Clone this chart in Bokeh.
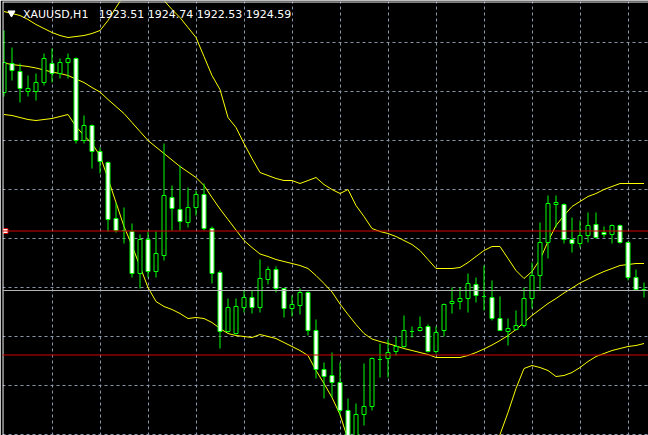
import numpy as np
from bokeh.plotting import figure
from bokeh.models import ColumnDataSource, Range1d, Grid, FixedTicker, Span, Label
from bokeh.embed import file_html
from bokeh.resources import INLINE

symbol = "XAUUSD,H1"
last_ohlc = ["1923.51", "1924.74", "1922.53", "1924.59"]

opens = [1944.39, 1947.29, 1946.49, 1944.49, 1944.49, 1945.39, 1947.29, 1946.29, 1947.39, 1947.79,
         1939.59, 1941.09, 1938.49, 1937.39, 1931.79, 1930.59, 1930.49, 1926.29, 1929.69, 1926.49,
         1928.09, 1933.89, 1932.69, 1931.39, 1932.89, 1934.19, 1930.79, 1926.39, 1920.49, 1920.29,
         1922.89, 1923.89, 1922.89, 1925.69, 1926.69, 1924.79, 1922.79, 1923.09, 1924.39, 1920.59,
         1916.69, 1916.09, 1915.39, 1912.59, 1909.89, 1912.19, 1912.99, 1917.69, 1917.79, 1918.49,
         1918.99, 1920.49, 1920.59, 1920.99, 1918.49, 1920.59, 1923.29, 1923.49, 1923.79, 1925.19,
         1923.99, 1923.89, 1921.79, 1920.49, 1920.69, 1921.09, 1923.79, 1926.09, 1929.39, 1933.19,
         1933.19, 1929.69, 1929.29, 1930.09, 1931.19, 1930.39, 1930.19, 1931.09, 1929.39, 1925.89,
         1924.69]
highs = [1950.59, 1948.89, 1947.29, 1946.09, 1946.29, 1948.29, 1948.79, 1947.79, 1948.29, 1947.89,
         1942.09, 1941.19, 1938.89, 1937.49, 1933.39, 1932.89, 1931.29, 1930.19, 1930.49, 1930.49,
         1939.29, 1935.09, 1937.09, 1934.89, 1934.59, 1935.29, 1930.99, 1926.59, 1923.79, 1923.79,
         1924.59, 1924.59, 1927.69, 1926.99, 1926.99, 1924.79, 1924.09, 1924.79, 1924.49, 1921.69,
         1917.39, 1918.39, 1917.39, 1913.79, 1913.29, 1917.29, 1917.89, 1919.29, 1919.69, 1919.99,
         1922.09, 1920.99, 1921.99, 1921.19, 1920.99, 1923.29, 1924.89, 1924.89, 1926.29, 1925.89,
         1927.09, 1925.59, 1923.99, 1921.79, 1922.59, 1924.89, 1927.39, 1931.39, 1934.09, 1934.09,
         1933.29, 1931.89, 1931.59, 1932.39, 1932.39, 1930.99, 1931.19, 1931.19, 1929.49, 1926.69,
         1925.39]
lows = [1943.99, 1945.59, 1943.39, 1943.99, 1943.59, 1945.09, 1945.39, 1945.79, 1945.79, 1939.29,
        1939.29, 1936.79, 1936.29, 1930.49, 1930.39, 1929.29, 1925.89, 1924.79, 1925.89, 1925.89,
        1927.59, 1930.59, 1930.59, 1930.89, 1932.09, 1930.59, 1925.29, 1918.79, 1920.39, 1920.19,
        1922.39, 1922.29, 1922.39, 1925.19, 1924.39, 1921.89, 1921.99, 1922.19, 1920.09, 1915.79,
        1913.79, 1913.89, 1912.09, 1909.59, 1909.59, 1911.09, 1912.59, 1915.89, 1915.89, 1918.09,
        1918.89, 1919.89, 1920.49, 1918.39, 1918.29, 1919.99, 1922.29, 1922.69, 1922.39, 1923.39,
        1922.59, 1921.59, 1920.59, 1919.09, 1920.59, 1920.89, 1922.79, 1924.59, 1927.79, 1930.89,
        1929.29, 1928.39, 1928.89, 1929.39, 1929.79, 1929.89, 1929.29, 1929.29, 1925.59, 1924.59,
        1923.89]
closes = [1947.39, 1946.59, 1944.79, 1944.79, 1945.39, 1947.79, 1946.29, 1947.39, 1947.79, 1939.59,
          1941.09, 1938.49, 1937.49, 1931.69, 1930.59, 1930.59, 1926.29, 1929.69, 1926.49, 1928.29,
          1934.09, 1932.79, 1931.49, 1932.89, 1934.19, 1930.79, 1926.29, 1920.49, 1922.89, 1922.99,
          1923.89, 1922.89, 1925.79, 1926.69, 1924.79, 1922.79, 1923.19, 1924.39, 1920.59, 1916.69,
          1915.99, 1915.39, 1912.59, 1909.99, 1912.19, 1912.99, 1917.79, 1917.69, 1918.39, 1918.99,
          1920.59, 1920.49, 1920.89, 1918.49, 1920.39, 1923.19, 1923.49, 1923.79, 1925.29, 1924.09,
          1923.99, 1921.79, 1920.59, 1920.79, 1921.09, 1923.79, 1926.09, 1929.39, 1933.29, 1933.39,
          1929.69, 1929.29, 1930.09, 1931.09, 1929.89, 1930.19, 1931.09, 1929.39, 1925.89, 1924.69,
          1924.59]

bb_upper = [1952.49, 1952.29, 1952.09, 1951.69, 1951.19, 1950.79, 1950.39, 1950.09, 1949.89, 1949.99,
            1950.09, 1950.29, 1950.59, 1951.59, 1952.89, 1954.09, 1954.79, 1955.09, 1954.89, 1954.29,
            1953.59, 1952.69, 1951.89, 1950.89, 1949.89, 1947.99, 1946.09, 1944.69, 1941.89, 1940.89,
            1939.29, 1937.79, 1936.39, 1936.09, 1935.79, 1935.59, 1935.59, 1935.29, 1935.59, 1935.89,
            1935.19, 1934.69, 1934.29, 1934.69, 1933.09, 1931.99, 1930.79, 1930.49, 1930.29, 1929.99,
            1929.59, 1929.19, 1928.59, 1927.69, 1926.79, 1926.79, 1926.79, 1926.89, 1927.39, 1927.99,
            1928.59, 1928.99, 1928.99, 1927.79, 1926.59, 1925.79, 1926.49, 1927.69, 1929.49, 1931.09,
            1932.09, 1932.99, 1933.49, 1933.99, 1934.29, 1934.69, 1934.99, 1935.29, 1935.29, 1935.29,
            1935.29]
bb_middle = [1947.34, 1947.19, 1947.09, 1946.99, 1946.84, 1946.64, 1946.44, 1946.29, 1946.09, 1945.74,
             1945.39, 1944.89, 1944.44, 1943.69, 1942.99, 1942.29, 1941.39, 1940.49, 1939.59, 1938.94,
             1938.29, 1937.64, 1936.99, 1936.44, 1935.89, 1935.09, 1933.89, 1932.74, 1931.69, 1930.64,
             1929.59, 1928.89, 1928.24, 1927.99, 1927.69, 1927.49, 1927.29, 1927.09, 1926.79, 1926.09,
             1925.29, 1924.44, 1923.24, 1922.19, 1921.19, 1920.29, 1919.74, 1919.49, 1919.29, 1919.04,
             1918.79, 1918.59, 1918.39, 1918.19, 1917.89, 1917.89, 1917.89, 1917.89, 1918.09, 1918.39,
             1918.74, 1919.14, 1919.59, 1920.09, 1920.69, 1921.39, 1922.09, 1922.69, 1923.29, 1923.79,
             1924.34, 1924.84, 1925.34, 1925.74, 1926.14, 1926.49, 1926.79, 1927.09, 1927.19, 1927.29,
             1927.29]
bb_lower = [1942.19, 1942.09, 1941.89, 1941.69, 1941.59, 1941.69, 1941.79, 1941.99, 1942.19, 1940.99,
            1940.09, 1939.29, 1938.09, 1935.79, 1933.39, 1930.99, 1929.09, 1926.99, 1924.89, 1923.49,
            1922.99, 1922.69, 1922.29, 1921.79, 1921.89, 1921.79, 1921.39, 1920.79, 1920.29, 1920.09,
            1919.99, 1919.89, 1920.19, 1919.99, 1919.79, 1919.39, 1918.99, 1918.59, 1918.09, 1916.59,
            1915.29, 1913.89, 1912.19, 1909.69, 1909.29, 1908.59, 1908.69, 1908.49, 1908.29, 1908.09,
            1907.99, 1907.99, 1908.19, 1908.69, 1908.99, 1908.99, 1908.99, 1908.89, 1908.79, 1908.79,
            1908.89, 1909.29, 1910.19, 1912.39, 1914.79, 1916.79, 1917.09, 1916.89, 1916.59, 1915.99,
            1916.09, 1916.39, 1916.89, 1917.49, 1917.99, 1918.29, 1918.59, 1918.79, 1918.99, 1919.09,
            1919.29]

red_levels = [1930.54, 1918.14]
bid_price = 1924.59
grid_prices = [1949.36, 1944.47, 1939.58, 1934.69, 1929.80, 1924.91, 1920.02, 1915.13, 1910.24]
grid_bars = [6, 12, 18, 24, 30, 36, 42, 48, 54, 60, 66, 72, 78]

W, H = 648, 435
PX_PER_BAR = 8.0
PX_PER_USD = 10.0
x0 = -1.5 / PX_PER_BAR
x1 = x0 + (W - 2) / PX_PER_BAR
y_top = 1953.49
y_bot = y_top - (H - 1) / PX_PER_USD

p = figure(width=W, height=H, output_backend="svg", toolbar_location=None,
           x_axis_location=None, y_axis_location=None,
           x_range=Range1d(x0, x1), y_range=Range1d(y_bot, y_top),
           min_border_left=2, min_border_top=1, min_border_right=0, min_border_bottom=0,
           background_fill_color="black", border_fill_color="black",
           outline_line_color=None)
p.grid.visible = False

gx = Grid(dimension=0, ticker=FixedTicker(ticks=grid_bars), grid_line_color="#8a96aa",
          grid_line_dash="3 3", grid_line_width=1)
gy = Grid(dimension=1, ticker=FixedTicker(ticks=grid_prices), grid_line_color="#8a96aa",
          grid_line_dash="3 3", grid_line_width=1)
p.add_layout(gx)
p.add_layout(gy)

# chart window border (left and top edges only are in view)
p.add_layout(Span(location=x0 + 0.5 / PX_PER_BAR, dimension="height", line_color="white", line_width=1))
p.add_layout(Span(location=y_top - 0.5 / PX_PER_USD, dimension="width", line_color="white", line_width=1))

for lvl in red_levels:
    p.add_layout(Span(location=lvl, dimension="width", line_color="#d40000", line_width=1))
p.add_layout(Span(location=bid_price, dimension="width", line_color="#b4b4b4", line_width=1))

bars = list(range(len(opens)))
bsrc = ColumnDataSource(dict(x=bars, u=bb_upper, m=bb_middle, l=bb_lower))
for col in ("u", "m", "l"):
    p.line(x="x", y=col, source=bsrc, line_color="#ffff00", line_width=1)

o = np.array(opens)
c = np.array(closes)
bull = c >= o
src = ColumnDataSource(dict(x=bars, high=highs, low=lows,
                            top=np.maximum(o, c), bottom=np.minimum(o, c),
                            fill=np.where(bull, "#000000", "#ffffff").tolist()))
p.segment(x0="x", y0="high", x1="x", y1="low", source=src, line_color="#00ff00", line_width=1)
p.vbar(x="x", width=0.5, top="top", bottom="bottom", fill_color="fill",
       line_color="#00ff00", line_width=1, source=src)

# selection anchor of the upper horizontal line
p.scatter(x=[x0 + 3.0 / PX_PER_BAR], y=[red_levels[0]], marker="square", size=5,
          fill_color="white", line_color="#d40000", line_width=1)

# chart header
p.scatter(x=[x0 + 9.0 / PX_PER_BAR], y=[y_top - 1.15], marker="inverted_triangle", size=7,
          fill_color="white", line_color="white")
title_text = symbol + "\u00a0\u00a0 " + " ".join(last_ohlc)
p.add_layout(Label(x=x0 + 20.5 / PX_PER_BAR, y=y_top - 1.25, text=title_text,
                   text_color="white", text_font="DejaVu Sans", text_font_size="11px",
                   text_baseline="middle", text_align="left"))

open("out.html", "w").write(file_html(p, INLINE))
